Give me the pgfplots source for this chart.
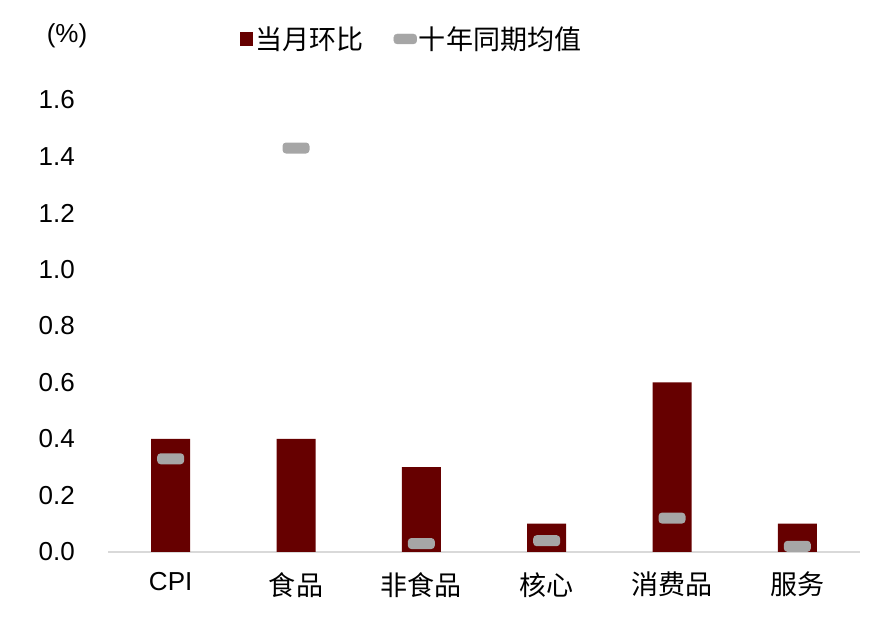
\documentclass[border=0pt]{standalone}
\usepackage{fontspec}
\setmainfont{Liberation Sans}
\newfontfamily\cjk[Scale=1.04]{Noto Sans CJK SC}
\usepackage{pgfplots}
\pgfplotsset{compat=1.18}

\definecolor{barred}{HTML}{660000}
\definecolor{avggray}{HTML}{A6A6A6}
\definecolor{axisgray}{HTML}{D9D9D9}

% rounded grey dash for the ten-year average
\pgfdeclareplotmark{rdash}{%
  \pgfsetcornersarced{\pgfpoint{3.5pt}{3.5pt}}%
  \pgfpathrectangle{\pgfpoint{-13.5pt}{-5.5pt}}{\pgfpoint{27pt}{11pt}}%
  \pgfusepath{fill}}

\begin{document}
\begin{tikzpicture}
\useasboundingbox (0,0) rectangle (883pt,629pt);
\begin{axis}[
  at={(108pt,77pt)}, anchor=south west,
  scale only axis,
  width=752pt, height=452pt,
  xmin=-0.5, xmax=5.5,
  ymin=0, ymax=1.6,
  ytick={0,0.2,...,1.6},
  xtick=data,
  xticklabels={CPI,{\cjk 食品},{\cjk 非食品},{\cjk 核心},{\cjk 消费品},{\cjk 服务}},
  axis x line=bottom,
  axis y line=left,
  x axis line style={-, draw=axisgray, line width=2.5pt},
  y axis line style={draw=none},
  major tick length=0pt,
  tick label style={font=\fontsize{26}{30}\selectfont},
  /pgf/number format/assume math mode=true,
  yticklabel style={/pgf/number format/fixed, /pgf/number format/fixed zerofill,
    /pgf/number format/precision=1},
  every y tick label/.append style={anchor=east, inner sep=0pt, xshift=-33pt},
  every x tick label/.append style={anchor=north, inner sep=0pt, yshift=-20pt},
  legend style={draw=none, fill=none, at={(0.404,1.135)}, anchor=center,
    font=\fontsize{26}{30}\selectfont\cjk, legend columns=2,
    /tikz/every even column/.append style={column sep=28pt}},
  clip=false,
]
\addplot[ybar, bar width=39pt, fill=barred, draw=none,
  legend image code/.code={\fill[barred] (0pt,-7pt) rectangle (13pt,7pt);}]
  coordinates {(0,0.4) (1,0.4) (2,0.3) (3,0.1) (4,0.6) (5,0.1)};
\addlegendentry{当月环比}
\addplot[only marks, mark=rdash, color=avggray,
  legend image code/.code={\fill[avggray, rounded corners=3.5pt] (0pt,-5pt) rectangle (23pt,5pt);}]
  coordinates {(0,0.33) (1,1.43) (2,0.03) (3,0.04) (4,0.12) (5,0.02)};
\addlegendentry{十年同期均值}
\end{axis}
\node[font=\fontsize{26}{30}\selectfont] at (67pt,593pt) {(\%)};
\end{tikzpicture}
\end{document}
